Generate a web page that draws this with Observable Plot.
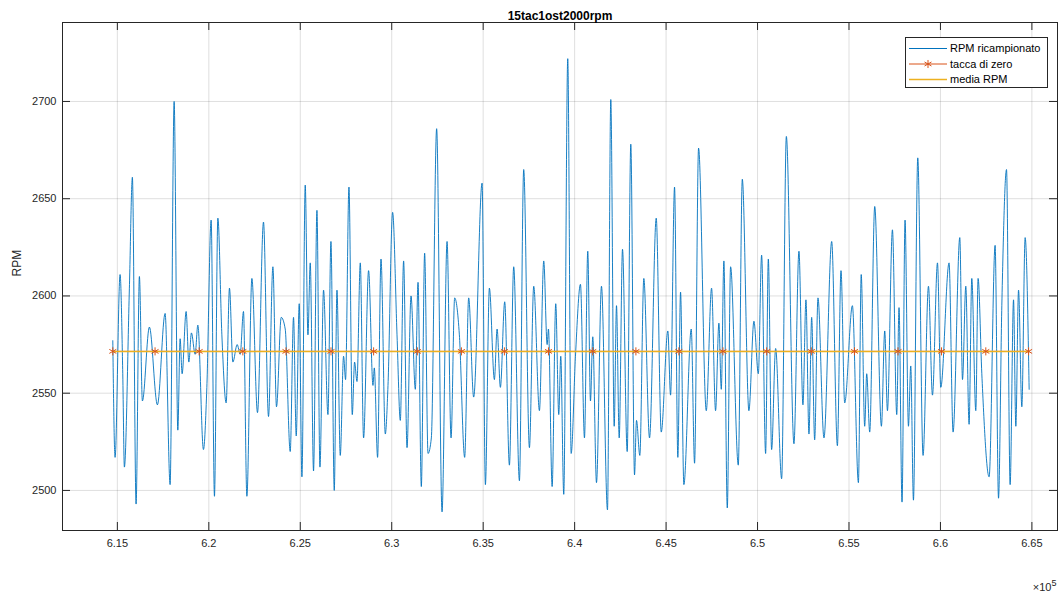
<!DOCTYPE html>
<html><head><meta charset="utf-8">
<script src="https://cdn.jsdelivr.net/npm/d3@7"></script>
<script src="https://cdn.jsdelivr.net/npm/@observablehq/plot@0.6"></script>
<style>
body{margin:0;background:#fff;font-family:"Liberation Sans",Arial,sans-serif;}
#wrap{position:relative;width:1062px;height:599px;}
#legend{position:absolute;left:905px;top:37px;}
</style></head><body><div id="wrap"></div>
<script>
const rpmX = [614750,614874,615148,615295,615383,615657,615821,616023,616204,616368,616751,617189,617610,617884,618103,618305,618431,618540,618759,618907,619049,619252,619399,619706,619892,620127,620308,620494,620713,620948,621129,621315,621550,621714,621895,622081,622354,622661,622989,623263,623503,623700,623958,624176,624450,624631,624779,624943,625090,625271,625419,625545,625725,625911,626075,626272,626513,626677,626858,627006,627186,627367,627476,627662,627843,627969,628100,628281,628461,628735,628975,629047,629227,629413,629649,629796,630048,630289,630469,630650,630836,631055,631290,631438,631618,631799,631985,632166,632456,632751,633025,633244,633441,633698,633988,634207,634480,634940,635121,635339,635613,635761,635941,636177,636434,636669,636981,637216,637528,637764,638075,638311,638497,638568,638770,638967,639132,639241,639405,639624,639810,640045,640319,640538,640718,640866,640992,641195,641468,641796,641977,642163,642289,642437,642617,642874,643071,643274,643383,643564,643783,644095,644461,644735,645096,645244,645463,645643,645791,645972,646376,646557,646776,647197,647487,647706,647887,648018,648160,648346,648527,648948,649167,649528,649802,650043,650223,650442,650590,650770,650989,651318,651575,651991,652264,652483,652647,652812,652959,653123,653304,653632,654054,654366,654563,654765,655186,655515,655668,655859,655969,656133,656407,656773,656954,657102,657375,657611,657736,657900,658065,658251,658377,658524,658760,659050,659345,659564,659838,660018,660472,660691,661058,661206,661386,661567,661714,661933,662059,662262,662661,662989,663175,663356,663613,663810,663996,664122,664270,664450,664631,664850];
const rpmY = [2577,2517,2611,2560,2512,2604,2661,2493,2610,2546,2584,2544,2591,2503,2700,2531,2578,2560,2592,2566,2581,2570,2585,2521,2553,2639,2497,2640,2580,2545,2604,2566,2575,2570,2592,2497,2609,2540,2638,2538,2615,2543,2589,2583,2520,2589,2528,2596,2507,2657,2580,2617,2510,2644,2512,2603,2539,2628,2500,2603,2518,2569,2557,2656,2539,2566,2556,2617,2527,2613,2554,2563,2517,2619,2529,2554,2643,2580,2536,2618,2522,2600,2552,2607,2502,2622,2519,2527,2686,2489,2628,2527,2599,2580,2517,2599,2548,2658,2503,2604,2557,2583,2553,2597,2513,2615,2505,2665,2522,2605,2541,2618,2575,2583,2502,2596,2539,2569,2498,2722,2519,2569,2606,2527,2623,2546,2579,2504,2605,2490,2701,2533,2595,2527,2624,2520,2678,2508,2536,2518,2609,2527,2640,2530,2582,2549,2656,2517,2602,2503,2583,2514,2676,2541,2604,2541,2586,2552,2618,2491,2615,2513,2660,2541,2587,2560,2621,2519,2619,2521,2573,2506,2682,2524,2623,2544,2598,2529,2589,2526,2599,2527,2628,2523,2613,2545,2595,2504,2611,2533,2560,2530,2646,2533,2582,2541,2634,2539,2594,2494,2639,2533,2564,2495,2671,2518,2605,2549,2617,2553,2617,2530,2630,2557,2605,2534,2609,2541,2609,2560,2507,2626,2496,2595,2665,2503,2598,2533,2603,2543,2630,2552];
const tacX = [614750,617060,619470,621860,624220,626680,629010,631400,633810,636160,638570,640990,643350,645700,648110,650500,652940,655300,657680,660060,662480,664820];
const mediaRPM = 2571.5;
const xTicks = [615000,620000,625000,630000,635000,640000,645000,650000,655000,660000,665000];
const xTickLabels = ["6.15","6.2","6.25","6.3","6.35","6.4","6.45","6.5","6.55","6.6","6.65"];
const yTicks = [2500,2550,2600,2650,2700];
const yTickLabels = ["2500","2550","2600","2650","2700"];
const xDomain = [612000, 666400];
const yDomain = [2479.4, 2740.6];
const titleText = "15tac1ost2000rpm";
const yLabel = "RPM";
const expBase = "×10", expPow = "5";
const legendLabels = ["RPM ricampionato","tacca di zero","media RPM"];
const colors = {rpm:"#0072BD", tac:"#D95319", media:"#EDB120"};

const signal = rpmX.map((x,i)=>({x, y: rpmY[i]}));
const W = 1062, H = 599, mL = 62, mR = 5, mT = 22, mB = 69;
const fh = H - mT - mB, fw = W - mL - mR, tk = 8;
const axisColor = "#262626";

const chart = Plot.plot({
  width: W, height: H,
  marginLeft: mL, marginRight: mR, marginTop: mT, marginBottom: mB,
  style: {fontFamily: "'Liberation Sans', Arial, sans-serif", fontSize: "11px", color: axisColor, background: "#fff"},
  x: {domain: xDomain},
  y: {domain: yDomain},
  marks: [
    Plot.gridX(xTicks, {stroke: axisColor, strokeOpacity: 0.15}),
    Plot.gridY(yTicks, {stroke: axisColor, strokeOpacity: 0.15}),
    Plot.axisX(xTicks, {tickSize: 0, tickPadding: 9, tickFormat: d => xTickLabels[xTicks.indexOf(d)], label: null}),
    Plot.axisY(yTicks, {tickSize: 0, tickPadding: 6, tickFormat: d => yTickLabels[yTicks.indexOf(d)], label: null}),
    Plot.ruleX(xTicks, {x: d => d, insetTop: fh - tk, stroke: axisColor}),
    Plot.ruleX(xTicks, {x: d => d, insetBottom: fh - tk, stroke: axisColor}),
    Plot.ruleY(yTicks, {y: d => d, insetRight: fw - tk, stroke: axisColor}),
    Plot.ruleY(yTicks, {y: d => d, insetLeft: fw - tk, stroke: axisColor}),
    Plot.line(signal, {x: "x", y: "y", stroke: colors.rpm, strokeWidth: 0.9, curve: "monotone-x"}),
    Plot.line(tacX, {x: d => d, y: () => mediaRPM, stroke: colors.tac, strokeWidth: 1}),
    Plot.line([rpmX[0], rpmX[rpmX.length-1]], {x: d => d, y: () => mediaRPM, stroke: colors.media, strokeWidth: 1.5}),
    Plot.dot(tacX, {x: d => d, y: () => mediaRPM, symbol: "asterisk", stroke: colors.tac, r: 3.8, strokeWidth: 1}),
    Plot.frame({stroke: axisColor}),
    Plot.text([titleText], {frameAnchor: "top", dy: -11, fontWeight: "bold", fontSize: 12, fill: "#000"}),
    Plot.text([yLabel], {frameAnchor: "left", dx: -45, rotate: -90, fontSize: 12, fill: axisColor}),
    Plot.text([expBase + expPow], {frameAnchor: "bottom-right", dy: 60, dx: -1, textAnchor: "end", fontSize: 11, fill: axisColor})
  ]
});
document.getElementById("wrap").appendChild(chart);

// superscript exponent
d3.select(chart).selectAll("text").filter(function(){ return this.textContent === expBase + expPow; })
  .each(function(){
    const t = d3.select(this);
    t.text(null);
    t.append("tspan").text(expBase);
    t.append("tspan").attr("dy","-0.45em").attr("font-size","9px").text(expPow);
  });

// legend
const lg = d3.select("#wrap").append("svg").attr("id","legend").attr("width",143).attr("height",51);
lg.append("rect").attr("x",0.5).attr("y",0.5).attr("width",142).attr("height",50).attr("fill","#fff").attr("stroke",axisColor);
const rowY = [11.5, 27, 42.5];
const rowColor = [colors.rpm, colors.tac, colors.media];
legendLabels.forEach((t,i)=>{
  lg.append("line").attr("x1",4).attr("x2",42).attr("y1",rowY[i]).attr("y2",rowY[i]).attr("stroke",rowColor[i]).attr("stroke-width", i===2?1.5:1);
  if (i===1) lg.append("path").attr("d", d3.symbol(d3.symbolAsterisk, 45)()).attr("transform",`translate(23,${rowY[i]})`).attr("stroke",colors.tac).attr("fill","none");
  lg.append("text").attr("x",45).attr("y",rowY[i]).attr("dy","0.35em").attr("font-size",11).attr("fill","#000").text(t);
});
</script>
</body></html>
